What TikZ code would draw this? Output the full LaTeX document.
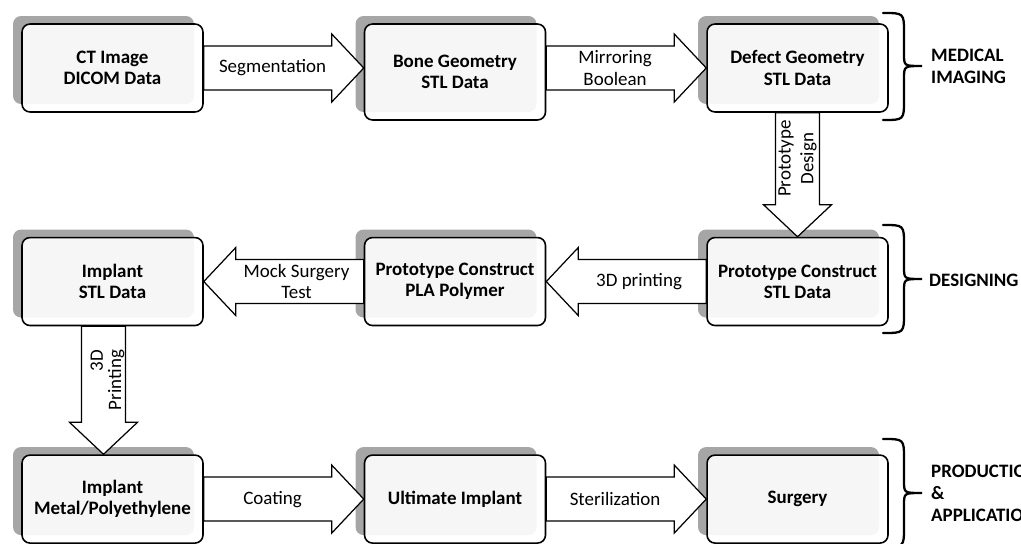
\documentclass[tikz,border=0pt]{standalone}
\usepackage{fontspec}
\setmainfont{Carlito}
\usetikzlibrary{positioning,calc,shadows}

\definecolor{shadowgray}{HTML}{A6A6A6}

\begin{document}
\begin{tikzpicture}[x=0.02cm, y=-0.02cm, line join=miter,
    box/.style={draw, line width=0.9pt, rounded corners=0.16cm,
        minimum width=3.62cm, minimum height=1.76cm, align=center,
        fill=white, fill opacity=0.9, text opacity=1,
        font=\fontsize{10.8}{12}\selectfont\bfseries,
        general shadow={fill=shadowgray, fill opacity=1, draw=none,
            shadow xshift=-0.18cm, shadow yshift=0.16cm}},
    fat/.style={draw, fill=white, line width=0.7pt,
        to path={let \p1=(\tikztostart), \p2=(\tikztotarget),
            \n1={atan2(\y2-\y1,\x2-\x1)}, \n2={veclen(\x2-\x1,\y2-\y1)} in
            -- ($(\p1)+(\n1+90:0.44cm)$)
            -- ($(\p1)+(\n1:\n2-0.64cm)+(\n1+90:0.44cm)$)
            -- ($(\p1)+(\n1:\n2-0.64cm)+(\n1+90:0.68cm)$)
            -- (\p2)
            -- ($(\p1)+(\n1:\n2-0.64cm)+(\n1-90:0.68cm)$)
            -- ($(\p1)+(\n1:\n2-0.64cm)+(\n1-90:0.44cm)$)
            -- ($(\p1)+(\n1-90:0.44cm)$) -- cycle}},
    step label/.style={align=center, font=\fontsize{10.8}{12.4}\selectfont},
    stage/.style={anchor=west, align=left,
        font=\fontsize{10.8}{12.6}\selectfont\bfseries},
    curly/.style={draw, line width=1.3pt, line cap=round}]

  \useasboundingbox (0,0) rectangle (1021,544);
  \clip (0,0) rectangle (1021,544);

  % medical imaging row
  \node[box] (ct) at (112.5,68) {CT Image\\DICOM Data};
  \node[box, minimum height=1.92cm, right=3.2cm of ct, yshift=-0.08cm] (bone) {Bone Geometry\\STL Data};
  \node[box, right=3.2cm of ct.east -| bone.east] (defect) {Defect Geometry\\STL Data};

  % designing row
  \node[box, below=2.48cm of defect] (protostl) {Prototype Construct\\STL Data};
  \node[box, left=3.2cm of protostl] (pla) {Prototype Construct\\PLA Polymer};
  \node[box, left=3.2cm of pla] (implantstl) {Implant\\STL Data};

  % production row
  \node[box, below=2.56cm of implantstl] (metal) {Implant\\Metal/Polyethylene};
  \node[box, right=3.2cm of metal] (ultimate) {Ultimate Implant};
  \node[box, right=3.2cm of ultimate] (surgery) {Surgery};

  % block arrows
  \draw[fat] (ct.east) to (bone.west |- ct.east);
  \draw[fat] (bone.east |- defect.west) to (defect.west);
  \draw[fat] (defect.south) to (protostl.north);
  \draw[fat] (protostl.west) to (pla.east);
  \draw[fat] (pla.west) to (implantstl.east);
  \draw[fat] ([xshift=-0.18cm]implantstl.south) to ([xshift=-0.18cm]metal.north);
  \draw[fat] (metal.east) to (ultimate.west);
  \draw[fat] (ultimate.east) to (surgery.west);

  \node[step label] (segm) at ($(ct.east)!0.43!(bone.west |- ct.east)$) {Segmentation};
  \node[step label] (mirror) at ($(bone.east |- defect.west)!0.43!(defect.west)$) {Mirroring\\Boolean};
  \node[step label, rotate=90, font=\fontsize{10.8}{13}\selectfont] (design) at ($(defect.south)!0.37!(protostl.north)$) {Prototype\\Design};
  \node[step label] (print) at ($(protostl.west)!0.42!(pla.east)$) {3D printing};
  \node[step label] (mock) at ($(pla.west)!0.42!(implantstl.east)$) {Mock Surgery\\Test};
  \node[step label, rotate=90, align=right, font=\fontsize{10.8}{10.4}\selectfont] (print3d) at ($([xshift=-0.1cm]implantstl.south)!0.42!([xshift=-0.1cm]metal.north)$) {3D\\Printing};
  \node[step label] (coat) at ($(metal.east)!0.43!(ultimate.west)$) {Coating};
  \node[step label] (steril) at ($(ultimate.east)!0.43!(surgery.west)$) {Sterilization};

  % stage braces
  \draw[curly] (883,13) .. controls (904,13) .. (904,33) -- (904,54)
      .. controls (904,66) .. (922,66) .. controls (904,66) .. (904,79)
      -- (904,100) .. controls (904,120) .. (883,120);
  \draw[curly] (883,225) .. controls (904,225) .. (904,245) -- (904,267)
      .. controls (904,279) .. (922,279) .. controls (904,279) .. (904,291)
      -- (904,313) .. controls (904,333) .. (883,333);
  \draw[curly] (883,439) .. controls (904,439) .. (904,459) -- (904,481)
      .. controls (904,493) .. (922,493) .. controls (904,493) .. (904,505)
      -- (904,527) .. controls (904,547) .. (883,547);

  \node[stage] (medical) at (925,66) {MEDICAL\\IMAGING};
  \node[stage] (designing) at (923,280) {DESIGNING};
  \node[stage] (production) at (925,493) {PRODUCTION\\\&\\APPLICATION};
\end{tikzpicture}
\end{document}
